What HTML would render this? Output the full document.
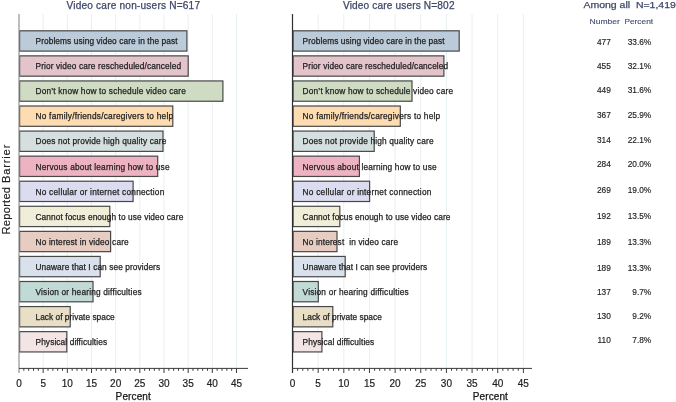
<!DOCTYPE html>
<html><head><meta charset="utf-8"><title>Video care barriers</title>
<style>html,body{margin:0;padding:0;background:#fff;width:676px;height:402px;overflow:hidden;font-family:"Liberation Sans",sans-serif}svg{display:block;filter:blur(0.3px)}</style>
</head><body>
<svg width="676" height="402" viewBox="0 0 676 402" font-family="Liberation Sans, sans-serif">
<rect width="676" height="402" fill="#ffffff"/>
<line x1="43.16" y1="14" x2="43.16" y2="368" stroke="#e8eff3" stroke-width="1"/>
<line x1="67.33" y1="14" x2="67.33" y2="368" stroke="#e8eff3" stroke-width="1"/>
<line x1="91.50" y1="14" x2="91.50" y2="368" stroke="#e8eff3" stroke-width="1"/>
<line x1="115.66" y1="14" x2="115.66" y2="368" stroke="#e8eff3" stroke-width="1"/>
<line x1="139.82" y1="14" x2="139.82" y2="368" stroke="#e8eff3" stroke-width="1"/>
<line x1="163.99" y1="14" x2="163.99" y2="368" stroke="#e8eff3" stroke-width="1"/>
<line x1="188.16" y1="14" x2="188.16" y2="368" stroke="#e8eff3" stroke-width="1"/>
<line x1="212.32" y1="14" x2="212.32" y2="368" stroke="#e8eff3" stroke-width="1"/>
<line x1="236.49" y1="14" x2="236.49" y2="368" stroke="#e8eff3" stroke-width="1"/>
<rect x="19.60" y="30.80" width="167.30" height="20.3" fill="#bccbd9" stroke="#484848" stroke-width="1.2"/>
<rect x="19.60" y="55.87" width="168.60" height="20.3" fill="#e4c4cb" stroke="#484848" stroke-width="1.2"/>
<rect x="19.60" y="80.94" width="203.30" height="20.3" fill="#cfdcc3" stroke="#484848" stroke-width="1.2"/>
<rect x="19.60" y="106.01" width="153.20" height="20.3" fill="#fddcb2" stroke="#484848" stroke-width="1.2"/>
<rect x="19.60" y="131.08" width="143.40" height="20.3" fill="#d6dfdf" stroke="#484848" stroke-width="1.2"/>
<rect x="19.60" y="156.15" width="138.10" height="20.3" fill="#eeb3c3" stroke="#484848" stroke-width="1.2"/>
<rect x="19.60" y="181.22" width="113.50" height="20.3" fill="#dcdcf0" stroke="#484848" stroke-width="1.2"/>
<rect x="19.60" y="206.29" width="90.20" height="20.3" fill="#f0eed8" stroke="#484848" stroke-width="1.2"/>
<rect x="19.60" y="231.36" width="91.00" height="20.3" fill="#e7cdc1" stroke="#484848" stroke-width="1.2"/>
<rect x="19.60" y="256.43" width="80.60" height="20.3" fill="#d9e1ec" stroke="#484848" stroke-width="1.2"/>
<rect x="19.60" y="281.50" width="73.40" height="20.3" fill="#c1dad6" stroke="#484848" stroke-width="1.2"/>
<rect x="19.60" y="306.57" width="50.60" height="20.3" fill="#e8dfc6" stroke="#484848" stroke-width="1.2"/>
<rect x="19.60" y="331.64" width="47.20" height="20.3" fill="#f3e5e5" stroke="#484848" stroke-width="1.2"/>
<text x="35.50" y="44.20" font-size="8.3" fill="#1e1e1e" stroke="#1e1e1e" stroke-width="0.25" textLength="142.00" lengthAdjust="spacing" xml:space="preserve">Problems using video care in the past</text>
<text x="35.50" y="69.27" font-size="8.3" fill="#1e1e1e" stroke="#1e1e1e" stroke-width="0.25" textLength="145.60" lengthAdjust="spacing" xml:space="preserve">Prior video care rescheduled/canceled</text>
<text x="35.50" y="94.34" font-size="8.3" fill="#1e1e1e" stroke="#1e1e1e" stroke-width="0.25" textLength="150.40" lengthAdjust="spacing" xml:space="preserve">Don’t know how to schedule video care</text>
<text x="35.50" y="119.41" font-size="8.3" fill="#1e1e1e" stroke="#1e1e1e" stroke-width="0.25" textLength="137.60" lengthAdjust="spacing" xml:space="preserve">No family/friends/caregivers to help</text>
<text x="35.50" y="144.48" font-size="8.3" fill="#1e1e1e" stroke="#1e1e1e" stroke-width="0.25" textLength="130.90" lengthAdjust="spacing" xml:space="preserve">Does not provide high quality care</text>
<text x="35.50" y="169.55" font-size="8.3" fill="#1e1e1e" stroke="#1e1e1e" stroke-width="0.25" textLength="134.00" lengthAdjust="spacing" xml:space="preserve">Nervous about learning how to use</text>
<text x="35.50" y="194.62" font-size="8.3" fill="#1e1e1e" stroke="#1e1e1e" stroke-width="0.25" textLength="128.80" lengthAdjust="spacing" xml:space="preserve">No cellular or internet connection</text>
<text x="35.50" y="219.69" font-size="8.3" fill="#1e1e1e" stroke="#1e1e1e" stroke-width="0.25" textLength="147.80" lengthAdjust="spacing" xml:space="preserve">Cannot focus enough to use video care</text>
<text x="35.50" y="244.76" font-size="8.3" fill="#1e1e1e" stroke="#1e1e1e" stroke-width="0.25" textLength="93.20" lengthAdjust="spacing" xml:space="preserve">No interest in video care</text>
<text x="35.50" y="269.83" font-size="8.3" fill="#1e1e1e" stroke="#1e1e1e" stroke-width="0.25" textLength="124.60" lengthAdjust="spacing" xml:space="preserve">Unaware that I can see providers</text>
<text x="35.50" y="294.90" font-size="8.3" fill="#1e1e1e" stroke="#1e1e1e" stroke-width="0.25" textLength="106.10" lengthAdjust="spacing" xml:space="preserve">Vision or hearing difficulties</text>
<text x="35.50" y="319.97" font-size="8.3" fill="#1e1e1e" stroke="#1e1e1e" stroke-width="0.25" textLength="79.20" lengthAdjust="spacing" xml:space="preserve">Lack of private space</text>
<text x="35.50" y="345.04" font-size="8.3" fill="#1e1e1e" stroke="#1e1e1e" stroke-width="0.25" textLength="71.60" lengthAdjust="spacing" xml:space="preserve">Physical difficulties</text>
<line x1="19.00" y1="14" x2="19.00" y2="373" stroke="#929292" stroke-width="1.2"/>
<line x1="19.00" y1="368.4" x2="248.00" y2="368.4" stroke="#3c3c3c" stroke-width="1"/>
<line x1="23.83" y1="368.4" x2="23.83" y2="370.8" stroke="#3c3c3c" stroke-width="1"/>
<line x1="28.67" y1="368.4" x2="28.67" y2="370.8" stroke="#3c3c3c" stroke-width="1"/>
<line x1="33.50" y1="368.4" x2="33.50" y2="370.8" stroke="#3c3c3c" stroke-width="1"/>
<line x1="38.33" y1="368.4" x2="38.33" y2="370.8" stroke="#3c3c3c" stroke-width="1"/>
<line x1="43.16" y1="368.4" x2="43.16" y2="373" stroke="#3c3c3c" stroke-width="1"/>
<line x1="48.00" y1="368.4" x2="48.00" y2="370.8" stroke="#3c3c3c" stroke-width="1"/>
<line x1="52.83" y1="368.4" x2="52.83" y2="370.8" stroke="#3c3c3c" stroke-width="1"/>
<line x1="57.66" y1="368.4" x2="57.66" y2="370.8" stroke="#3c3c3c" stroke-width="1"/>
<line x1="62.50" y1="368.4" x2="62.50" y2="370.8" stroke="#3c3c3c" stroke-width="1"/>
<line x1="67.33" y1="368.4" x2="67.33" y2="373" stroke="#3c3c3c" stroke-width="1"/>
<line x1="72.16" y1="368.4" x2="72.16" y2="370.8" stroke="#3c3c3c" stroke-width="1"/>
<line x1="77.00" y1="368.4" x2="77.00" y2="370.8" stroke="#3c3c3c" stroke-width="1"/>
<line x1="81.83" y1="368.4" x2="81.83" y2="370.8" stroke="#3c3c3c" stroke-width="1"/>
<line x1="86.66" y1="368.4" x2="86.66" y2="370.8" stroke="#3c3c3c" stroke-width="1"/>
<line x1="91.50" y1="368.4" x2="91.50" y2="373" stroke="#3c3c3c" stroke-width="1"/>
<line x1="96.33" y1="368.4" x2="96.33" y2="370.8" stroke="#3c3c3c" stroke-width="1"/>
<line x1="101.16" y1="368.4" x2="101.16" y2="370.8" stroke="#3c3c3c" stroke-width="1"/>
<line x1="105.99" y1="368.4" x2="105.99" y2="370.8" stroke="#3c3c3c" stroke-width="1"/>
<line x1="110.83" y1="368.4" x2="110.83" y2="370.8" stroke="#3c3c3c" stroke-width="1"/>
<line x1="115.66" y1="368.4" x2="115.66" y2="373" stroke="#3c3c3c" stroke-width="1"/>
<line x1="120.49" y1="368.4" x2="120.49" y2="370.8" stroke="#3c3c3c" stroke-width="1"/>
<line x1="125.33" y1="368.4" x2="125.33" y2="370.8" stroke="#3c3c3c" stroke-width="1"/>
<line x1="130.16" y1="368.4" x2="130.16" y2="370.8" stroke="#3c3c3c" stroke-width="1"/>
<line x1="134.99" y1="368.4" x2="134.99" y2="370.8" stroke="#3c3c3c" stroke-width="1"/>
<line x1="139.82" y1="368.4" x2="139.82" y2="373" stroke="#3c3c3c" stroke-width="1"/>
<line x1="144.66" y1="368.4" x2="144.66" y2="370.8" stroke="#3c3c3c" stroke-width="1"/>
<line x1="149.49" y1="368.4" x2="149.49" y2="370.8" stroke="#3c3c3c" stroke-width="1"/>
<line x1="154.32" y1="368.4" x2="154.32" y2="370.8" stroke="#3c3c3c" stroke-width="1"/>
<line x1="159.16" y1="368.4" x2="159.16" y2="370.8" stroke="#3c3c3c" stroke-width="1"/>
<line x1="163.99" y1="368.4" x2="163.99" y2="373" stroke="#3c3c3c" stroke-width="1"/>
<line x1="168.82" y1="368.4" x2="168.82" y2="370.8" stroke="#3c3c3c" stroke-width="1"/>
<line x1="173.66" y1="368.4" x2="173.66" y2="370.8" stroke="#3c3c3c" stroke-width="1"/>
<line x1="178.49" y1="368.4" x2="178.49" y2="370.8" stroke="#3c3c3c" stroke-width="1"/>
<line x1="183.32" y1="368.4" x2="183.32" y2="370.8" stroke="#3c3c3c" stroke-width="1"/>
<line x1="188.16" y1="368.4" x2="188.16" y2="373" stroke="#3c3c3c" stroke-width="1"/>
<line x1="192.99" y1="368.4" x2="192.99" y2="370.8" stroke="#3c3c3c" stroke-width="1"/>
<line x1="197.82" y1="368.4" x2="197.82" y2="370.8" stroke="#3c3c3c" stroke-width="1"/>
<line x1="202.65" y1="368.4" x2="202.65" y2="370.8" stroke="#3c3c3c" stroke-width="1"/>
<line x1="207.49" y1="368.4" x2="207.49" y2="370.8" stroke="#3c3c3c" stroke-width="1"/>
<line x1="212.32" y1="368.4" x2="212.32" y2="373" stroke="#3c3c3c" stroke-width="1"/>
<line x1="217.15" y1="368.4" x2="217.15" y2="370.8" stroke="#3c3c3c" stroke-width="1"/>
<line x1="221.99" y1="368.4" x2="221.99" y2="370.8" stroke="#3c3c3c" stroke-width="1"/>
<line x1="226.82" y1="368.4" x2="226.82" y2="370.8" stroke="#3c3c3c" stroke-width="1"/>
<line x1="231.65" y1="368.4" x2="231.65" y2="370.8" stroke="#3c3c3c" stroke-width="1"/>
<line x1="236.49" y1="368.4" x2="236.49" y2="373" stroke="#3c3c3c" stroke-width="1"/>
<text x="19.00" y="386.8" font-size="10" fill="#222222" stroke="#222222" stroke-width="0.2" text-anchor="middle">0</text>
<text x="43.16" y="386.8" font-size="10" fill="#222222" stroke="#222222" stroke-width="0.2" text-anchor="middle">5</text>
<text x="67.33" y="386.8" font-size="10" fill="#222222" stroke="#222222" stroke-width="0.2" text-anchor="middle">10</text>
<text x="91.50" y="386.8" font-size="10" fill="#222222" stroke="#222222" stroke-width="0.2" text-anchor="middle">15</text>
<text x="115.66" y="386.8" font-size="10" fill="#222222" stroke="#222222" stroke-width="0.2" text-anchor="middle">20</text>
<text x="139.82" y="386.8" font-size="10" fill="#222222" stroke="#222222" stroke-width="0.2" text-anchor="middle">25</text>
<text x="163.99" y="386.8" font-size="10" fill="#222222" stroke="#222222" stroke-width="0.2" text-anchor="middle">30</text>
<text x="188.16" y="386.8" font-size="10" fill="#222222" stroke="#222222" stroke-width="0.2" text-anchor="middle">35</text>
<text x="212.32" y="386.8" font-size="10" fill="#222222" stroke="#222222" stroke-width="0.2" text-anchor="middle">40</text>
<text x="236.49" y="386.8" font-size="10" fill="#222222" stroke="#222222" stroke-width="0.2" text-anchor="middle">45</text>
<line x1="318.15" y1="14" x2="318.15" y2="368" stroke="#e8eff3" stroke-width="1"/>
<line x1="343.81" y1="14" x2="343.81" y2="368" stroke="#e8eff3" stroke-width="1"/>
<line x1="369.47" y1="14" x2="369.47" y2="368" stroke="#e8eff3" stroke-width="1"/>
<line x1="395.12" y1="14" x2="395.12" y2="368" stroke="#e8eff3" stroke-width="1"/>
<line x1="420.77" y1="14" x2="420.77" y2="368" stroke="#e8eff3" stroke-width="1"/>
<line x1="446.43" y1="14" x2="446.43" y2="368" stroke="#e8eff3" stroke-width="1"/>
<line x1="472.09" y1="14" x2="472.09" y2="368" stroke="#e8eff3" stroke-width="1"/>
<line x1="497.74" y1="14" x2="497.74" y2="368" stroke="#e8eff3" stroke-width="1"/>
<line x1="523.39" y1="14" x2="523.39" y2="368" stroke="#e8eff3" stroke-width="1"/>
<rect x="293.10" y="30.80" width="166.10" height="20.3" fill="#bccbd9" stroke="#484848" stroke-width="1.2"/>
<rect x="293.10" y="55.87" width="150.80" height="20.3" fill="#e4c4cb" stroke="#484848" stroke-width="1.2"/>
<rect x="293.10" y="80.94" width="118.90" height="20.3" fill="#cfdcc3" stroke="#484848" stroke-width="1.2"/>
<rect x="293.10" y="106.01" width="107.20" height="20.3" fill="#fddcb2" stroke="#484848" stroke-width="1.2"/>
<rect x="293.10" y="131.08" width="81.10" height="20.3" fill="#d6dfdf" stroke="#484848" stroke-width="1.2"/>
<rect x="293.10" y="156.15" width="66.30" height="20.3" fill="#eeb3c3" stroke="#484848" stroke-width="1.2"/>
<rect x="293.10" y="181.22" width="76.50" height="20.3" fill="#dcdcf0" stroke="#484848" stroke-width="1.2"/>
<rect x="293.10" y="206.29" width="46.70" height="20.3" fill="#f0eed8" stroke="#484848" stroke-width="1.2"/>
<rect x="293.10" y="231.36" width="43.90" height="20.3" fill="#e7cdc1" stroke="#484848" stroke-width="1.2"/>
<rect x="293.10" y="256.43" width="52.10" height="20.3" fill="#d9e1ec" stroke="#484848" stroke-width="1.2"/>
<rect x="293.10" y="281.50" width="25.20" height="20.3" fill="#c1dad6" stroke="#484848" stroke-width="1.2"/>
<rect x="293.10" y="306.57" width="39.70" height="20.3" fill="#e8dfc6" stroke="#484848" stroke-width="1.2"/>
<rect x="293.10" y="331.64" width="28.80" height="20.3" fill="#f3e5e5" stroke="#484848" stroke-width="1.2"/>
<text x="302.60" y="44.20" font-size="8.3" fill="#1e1e1e" stroke="#1e1e1e" stroke-width="0.25" textLength="142.00" lengthAdjust="spacing" xml:space="preserve">Problems using video care in the past</text>
<text x="302.60" y="69.27" font-size="8.3" fill="#1e1e1e" stroke="#1e1e1e" stroke-width="0.25" textLength="145.60" lengthAdjust="spacing" xml:space="preserve">Prior video care rescheduled/canceled</text>
<text x="302.60" y="94.34" font-size="8.3" fill="#1e1e1e" stroke="#1e1e1e" stroke-width="0.25" textLength="150.40" lengthAdjust="spacing" xml:space="preserve">Don’t know how to schedule video care</text>
<text x="302.60" y="119.41" font-size="8.3" fill="#1e1e1e" stroke="#1e1e1e" stroke-width="0.25" textLength="137.60" lengthAdjust="spacing" xml:space="preserve">No family/friends/caregivers to help</text>
<text x="302.60" y="144.48" font-size="8.3" fill="#1e1e1e" stroke="#1e1e1e" stroke-width="0.25" textLength="130.90" lengthAdjust="spacing" xml:space="preserve">Does not provide high quality care</text>
<text x="302.60" y="169.55" font-size="8.3" fill="#1e1e1e" stroke="#1e1e1e" stroke-width="0.25" textLength="134.00" lengthAdjust="spacing" xml:space="preserve">Nervous about learning how to use</text>
<text x="302.60" y="194.62" font-size="8.3" fill="#1e1e1e" stroke="#1e1e1e" stroke-width="0.25" textLength="128.80" lengthAdjust="spacing" xml:space="preserve">No cellular or internet connection</text>
<text x="302.60" y="219.69" font-size="8.3" fill="#1e1e1e" stroke="#1e1e1e" stroke-width="0.25" textLength="147.80" lengthAdjust="spacing" xml:space="preserve">Cannot focus enough to use video care</text>
<text x="302.60" y="244.76" font-size="8.3" fill="#1e1e1e" stroke="#1e1e1e" stroke-width="0.25" textLength="95.50" lengthAdjust="spacing" xml:space="preserve">No interest  in video care</text>
<text x="302.60" y="269.83" font-size="8.3" fill="#1e1e1e" stroke="#1e1e1e" stroke-width="0.25" textLength="124.60" lengthAdjust="spacing" xml:space="preserve">Unaware that I can see providers</text>
<text x="302.60" y="294.90" font-size="8.3" fill="#1e1e1e" stroke="#1e1e1e" stroke-width="0.25" textLength="106.10" lengthAdjust="spacing" xml:space="preserve">Vision or hearing difficulties</text>
<text x="302.60" y="319.97" font-size="8.3" fill="#1e1e1e" stroke="#1e1e1e" stroke-width="0.25" textLength="79.20" lengthAdjust="spacing" xml:space="preserve">Lack of private space</text>
<text x="302.60" y="345.04" font-size="8.3" fill="#1e1e1e" stroke="#1e1e1e" stroke-width="0.25" textLength="71.60" lengthAdjust="spacing" xml:space="preserve">Physical difficulties</text>
<line x1="292.50" y1="14" x2="292.50" y2="373" stroke="#303030" stroke-width="1.2"/>
<line x1="292.50" y1="368.4" x2="532.00" y2="368.4" stroke="#3c3c3c" stroke-width="1"/>
<line x1="297.63" y1="368.4" x2="297.63" y2="370.8" stroke="#3c3c3c" stroke-width="1"/>
<line x1="302.76" y1="368.4" x2="302.76" y2="370.8" stroke="#3c3c3c" stroke-width="1"/>
<line x1="307.89" y1="368.4" x2="307.89" y2="370.8" stroke="#3c3c3c" stroke-width="1"/>
<line x1="313.02" y1="368.4" x2="313.02" y2="370.8" stroke="#3c3c3c" stroke-width="1"/>
<line x1="318.15" y1="368.4" x2="318.15" y2="373" stroke="#3c3c3c" stroke-width="1"/>
<line x1="323.29" y1="368.4" x2="323.29" y2="370.8" stroke="#3c3c3c" stroke-width="1"/>
<line x1="328.42" y1="368.4" x2="328.42" y2="370.8" stroke="#3c3c3c" stroke-width="1"/>
<line x1="333.55" y1="368.4" x2="333.55" y2="370.8" stroke="#3c3c3c" stroke-width="1"/>
<line x1="338.68" y1="368.4" x2="338.68" y2="370.8" stroke="#3c3c3c" stroke-width="1"/>
<line x1="343.81" y1="368.4" x2="343.81" y2="373" stroke="#3c3c3c" stroke-width="1"/>
<line x1="348.94" y1="368.4" x2="348.94" y2="370.8" stroke="#3c3c3c" stroke-width="1"/>
<line x1="354.07" y1="368.4" x2="354.07" y2="370.8" stroke="#3c3c3c" stroke-width="1"/>
<line x1="359.20" y1="368.4" x2="359.20" y2="370.8" stroke="#3c3c3c" stroke-width="1"/>
<line x1="364.33" y1="368.4" x2="364.33" y2="370.8" stroke="#3c3c3c" stroke-width="1"/>
<line x1="369.47" y1="368.4" x2="369.47" y2="373" stroke="#3c3c3c" stroke-width="1"/>
<line x1="374.60" y1="368.4" x2="374.60" y2="370.8" stroke="#3c3c3c" stroke-width="1"/>
<line x1="379.73" y1="368.4" x2="379.73" y2="370.8" stroke="#3c3c3c" stroke-width="1"/>
<line x1="384.86" y1="368.4" x2="384.86" y2="370.8" stroke="#3c3c3c" stroke-width="1"/>
<line x1="389.99" y1="368.4" x2="389.99" y2="370.8" stroke="#3c3c3c" stroke-width="1"/>
<line x1="395.12" y1="368.4" x2="395.12" y2="373" stroke="#3c3c3c" stroke-width="1"/>
<line x1="400.25" y1="368.4" x2="400.25" y2="370.8" stroke="#3c3c3c" stroke-width="1"/>
<line x1="405.38" y1="368.4" x2="405.38" y2="370.8" stroke="#3c3c3c" stroke-width="1"/>
<line x1="410.51" y1="368.4" x2="410.51" y2="370.8" stroke="#3c3c3c" stroke-width="1"/>
<line x1="415.64" y1="368.4" x2="415.64" y2="370.8" stroke="#3c3c3c" stroke-width="1"/>
<line x1="420.77" y1="368.4" x2="420.77" y2="373" stroke="#3c3c3c" stroke-width="1"/>
<line x1="425.91" y1="368.4" x2="425.91" y2="370.8" stroke="#3c3c3c" stroke-width="1"/>
<line x1="431.04" y1="368.4" x2="431.04" y2="370.8" stroke="#3c3c3c" stroke-width="1"/>
<line x1="436.17" y1="368.4" x2="436.17" y2="370.8" stroke="#3c3c3c" stroke-width="1"/>
<line x1="441.30" y1="368.4" x2="441.30" y2="370.8" stroke="#3c3c3c" stroke-width="1"/>
<line x1="446.43" y1="368.4" x2="446.43" y2="373" stroke="#3c3c3c" stroke-width="1"/>
<line x1="451.56" y1="368.4" x2="451.56" y2="370.8" stroke="#3c3c3c" stroke-width="1"/>
<line x1="456.69" y1="368.4" x2="456.69" y2="370.8" stroke="#3c3c3c" stroke-width="1"/>
<line x1="461.82" y1="368.4" x2="461.82" y2="370.8" stroke="#3c3c3c" stroke-width="1"/>
<line x1="466.95" y1="368.4" x2="466.95" y2="370.8" stroke="#3c3c3c" stroke-width="1"/>
<line x1="472.09" y1="368.4" x2="472.09" y2="373" stroke="#3c3c3c" stroke-width="1"/>
<line x1="477.22" y1="368.4" x2="477.22" y2="370.8" stroke="#3c3c3c" stroke-width="1"/>
<line x1="482.35" y1="368.4" x2="482.35" y2="370.8" stroke="#3c3c3c" stroke-width="1"/>
<line x1="487.48" y1="368.4" x2="487.48" y2="370.8" stroke="#3c3c3c" stroke-width="1"/>
<line x1="492.61" y1="368.4" x2="492.61" y2="370.8" stroke="#3c3c3c" stroke-width="1"/>
<line x1="497.74" y1="368.4" x2="497.74" y2="373" stroke="#3c3c3c" stroke-width="1"/>
<line x1="502.87" y1="368.4" x2="502.87" y2="370.8" stroke="#3c3c3c" stroke-width="1"/>
<line x1="508.00" y1="368.4" x2="508.00" y2="370.8" stroke="#3c3c3c" stroke-width="1"/>
<line x1="513.13" y1="368.4" x2="513.13" y2="370.8" stroke="#3c3c3c" stroke-width="1"/>
<line x1="518.26" y1="368.4" x2="518.26" y2="370.8" stroke="#3c3c3c" stroke-width="1"/>
<line x1="523.39" y1="368.4" x2="523.39" y2="373" stroke="#3c3c3c" stroke-width="1"/>
<text x="292.50" y="386.8" font-size="10" fill="#222222" stroke="#222222" stroke-width="0.2" text-anchor="middle">0</text>
<text x="318.15" y="386.8" font-size="10" fill="#222222" stroke="#222222" stroke-width="0.2" text-anchor="middle">5</text>
<text x="343.81" y="386.8" font-size="10" fill="#222222" stroke="#222222" stroke-width="0.2" text-anchor="middle">10</text>
<text x="369.47" y="386.8" font-size="10" fill="#222222" stroke="#222222" stroke-width="0.2" text-anchor="middle">15</text>
<text x="395.12" y="386.8" font-size="10" fill="#222222" stroke="#222222" stroke-width="0.2" text-anchor="middle">20</text>
<text x="420.77" y="386.8" font-size="10" fill="#222222" stroke="#222222" stroke-width="0.2" text-anchor="middle">25</text>
<text x="446.43" y="386.8" font-size="10" fill="#222222" stroke="#222222" stroke-width="0.2" text-anchor="middle">30</text>
<text x="472.09" y="386.8" font-size="10" fill="#222222" stroke="#222222" stroke-width="0.2" text-anchor="middle">35</text>
<text x="497.74" y="386.8" font-size="10" fill="#222222" stroke="#222222" stroke-width="0.2" text-anchor="middle">40</text>
<text x="523.39" y="386.8" font-size="10" fill="#222222" stroke="#222222" stroke-width="0.2" text-anchor="middle">45</text>
<text x="66.5" y="8.7" font-size="10.1" fill="#3d4869" stroke="#3d4869" stroke-width="0.25" textLength="133.5" lengthAdjust="spacing">Video care non-users N=617</text>
<text x="343" y="8.7" font-size="10.1" fill="#3d4869" stroke="#3d4869" stroke-width="0.25" textLength="111.5" lengthAdjust="spacing">Video care users N=802</text>
<text x="583.4" y="7.7" font-size="9.6" fill="#3d4869" stroke="#3d4869" stroke-width="0.25" xml:space="preserve" textLength="92.5" lengthAdjust="spacingAndGlyphs">Among all  N=1,419</text>
<text x="589.5" y="24.1" font-size="8.0" fill="#45527c" stroke="#45527c" stroke-width="0.15" textLength="30.4" lengthAdjust="spacingAndGlyphs">Number</text>
<text x="624.4" y="24.1" font-size="8.0" fill="#45527c" stroke="#45527c" stroke-width="0.15" textLength="28.7" lengthAdjust="spacingAndGlyphs">Percent</text>
<text x="610.8" y="45.3" font-size="8.3" fill="#222222" stroke="#222222" stroke-width="0.15" text-anchor="end">477</text>
<text x="651.2" y="45.3" font-size="8.3" fill="#222222" stroke="#222222" stroke-width="0.15" text-anchor="end">33.6%</text>
<text x="610.8" y="68.7" font-size="8.3" fill="#222222" stroke="#222222" stroke-width="0.15" text-anchor="end">455</text>
<text x="651.2" y="68.7" font-size="8.3" fill="#222222" stroke="#222222" stroke-width="0.15" text-anchor="end">32.1%</text>
<text x="610.8" y="92.5" font-size="8.3" fill="#222222" stroke="#222222" stroke-width="0.15" text-anchor="end">449</text>
<text x="651.2" y="92.5" font-size="8.3" fill="#222222" stroke="#222222" stroke-width="0.15" text-anchor="end">31.6%</text>
<text x="610.8" y="118.1" font-size="8.3" fill="#222222" stroke="#222222" stroke-width="0.15" text-anchor="end">367</text>
<text x="651.2" y="118.1" font-size="8.3" fill="#222222" stroke="#222222" stroke-width="0.15" text-anchor="end">25.9%</text>
<text x="610.8" y="142.5" font-size="8.3" fill="#222222" stroke="#222222" stroke-width="0.15" text-anchor="end">314</text>
<text x="651.2" y="142.5" font-size="8.3" fill="#222222" stroke="#222222" stroke-width="0.15" text-anchor="end">22.1%</text>
<text x="610.8" y="167.4" font-size="8.3" fill="#222222" stroke="#222222" stroke-width="0.15" text-anchor="end">284</text>
<text x="651.2" y="167.4" font-size="8.3" fill="#222222" stroke="#222222" stroke-width="0.15" text-anchor="end">20.0%</text>
<text x="610.8" y="193.3" font-size="8.3" fill="#222222" stroke="#222222" stroke-width="0.15" text-anchor="end">269</text>
<text x="651.2" y="193.3" font-size="8.3" fill="#222222" stroke="#222222" stroke-width="0.15" text-anchor="end">19.0%</text>
<text x="610.8" y="219.1" font-size="8.3" fill="#222222" stroke="#222222" stroke-width="0.15" text-anchor="end">192</text>
<text x="651.2" y="219.1" font-size="8.3" fill="#222222" stroke="#222222" stroke-width="0.15" text-anchor="end">13.5%</text>
<text x="610.8" y="244.8" font-size="8.3" fill="#222222" stroke="#222222" stroke-width="0.15" text-anchor="end">189</text>
<text x="651.2" y="244.8" font-size="8.3" fill="#222222" stroke="#222222" stroke-width="0.15" text-anchor="end">13.3%</text>
<text x="610.8" y="270.5" font-size="8.3" fill="#222222" stroke="#222222" stroke-width="0.15" text-anchor="end">189</text>
<text x="651.2" y="270.5" font-size="8.3" fill="#222222" stroke="#222222" stroke-width="0.15" text-anchor="end">13.3%</text>
<text x="610.8" y="295.4" font-size="8.3" fill="#222222" stroke="#222222" stroke-width="0.15" text-anchor="end">137</text>
<text x="651.2" y="295.4" font-size="8.3" fill="#222222" stroke="#222222" stroke-width="0.15" text-anchor="end">9.7%</text>
<text x="610.8" y="318.8" font-size="8.3" fill="#222222" stroke="#222222" stroke-width="0.15" text-anchor="end">130</text>
<text x="651.2" y="318.8" font-size="8.3" fill="#222222" stroke="#222222" stroke-width="0.15" text-anchor="end">9.2%</text>
<text x="610.8" y="342.7" font-size="8.3" fill="#222222" stroke="#222222" stroke-width="0.15" text-anchor="end">110</text>
<text x="651.2" y="342.7" font-size="8.3" fill="#222222" stroke="#222222" stroke-width="0.15" text-anchor="end">7.8%</text>
<text x="115.6" y="400.2" font-size="10" fill="#161616" stroke="#161616" stroke-width="0.25" textLength="35.2" lengthAdjust="spacing">Percent</text>
<text x="472.7" y="400.1" font-size="10" fill="#161616" stroke="#161616" stroke-width="0.25" textLength="35.2" lengthAdjust="spacing">Percent</text>
<text transform="translate(10.0,234.5) rotate(-90)" x="0" y="0" font-size="11.2" fill="#222222" stroke="#222222" stroke-width="0.15" textLength="47.6" lengthAdjust="spacing">Reported</text><text transform="translate(10.0,183.0) rotate(-90)" x="0" y="0" font-size="11.2" fill="#222222" stroke="#222222" stroke-width="0.15" textLength="38.4" lengthAdjust="spacing">Barrier</text>
</svg>
</body></html>
